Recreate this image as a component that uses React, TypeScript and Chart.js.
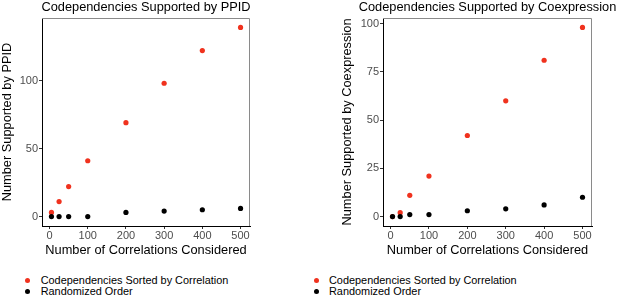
import React, { useEffect, useRef } from "react";
import { Chart, registerables } from "chart.js";

Chart.register(...registerables);

// ---- data ----
const correlationsConsidered = [5, 25, 50, 100, 200, 300, 400, 500];
const ppidSorted = [3, 11, 22, 41, 69, 98, 122, 139];
const ppidRandom = [0, 0, 0, 0, 3, 4, 5, 6];
const coexSorted = [0, 2, 11, 21, 42, 60, 81, 98];
const coexRandom = [0, 0, 1, 1, 3, 4, 6, 10];
const xTicks = [0, 100, 200, 300, 400, 500];
const ppidYTicks = [0, 50, 100];
const coexYTicks = [0, 25, 50, 75, 100];
const seriesNames = ["Codependencies Sorted by Correlation", "Randomized Order"];
const seriesColors = ["#f0321e", "#000000"];
const titles = ["Codependencies Supported by PPID", "Codependencies Supported by Coexpression"];
const yTitles = ["Number Supported by PPID", "Number Supported by Coexpression"];
const xTitle = "Number of Correlations Considered";

const FONT = "'Liberation Sans', Arial, Helvetica, sans-serif";

const panelBorder = {
  id: "panelBorder",
  afterDraw(chart: any) {
    const { ctx, chartArea } = chart;
    ctx.save();
    ctx.strokeStyle = "#8a8a8a";
    ctx.lineWidth = 1;
    ctx.beginPath();
    ctx.moveTo(chartArea.left, chartArea.top + 0.5);
    ctx.lineTo(chartArea.right - 0.5, chartArea.top + 0.5);
    ctx.lineTo(chartArea.right - 0.5, chartArea.bottom);
    ctx.stroke();
    ctx.restore();
  },
};

function makeConfig(
  title: string,
  yTitle: string,
  sorted: number[],
  random: number[],
  yMin: number,
  yMax: number,
  yTicks: number[],
  yWidth: number
): any {
  const pts = (vals: number[]) => correlationsConsidered.map((x, i) => ({ x, y: vals[i] }));
  return {
    type: "scatter",
    data: {
      datasets: [
        {
          label: seriesNames[0],
          data: pts(sorted),
          backgroundColor: seriesColors[0],
          borderColor: seriesColors[0],
          pointRadius: 2.6,
          borderWidth: 0,
          order: 1,
        },
        {
          label: seriesNames[1],
          data: pts(random),
          backgroundColor: seriesColors[1],
          borderColor: seriesColors[1],
          pointRadius: 2.6,
          borderWidth: 0,
          order: 0,
        },
      ],
    },
    options: {
      animation: false,
      responsive: false,
      layout: { padding: 0 },
      plugins: {
        legend: { display: false },
        tooltip: { enabled: false },
        title: {
          display: true,
          text: title,
          color: "#000",
          font: { family: FONT, size: 12.8, weight: "normal" },
          padding: { top: 0, bottom: 2.64 },
        },
      },
      scales: {
        x: {
          type: "linear",
          min: -19.75,
          max: 524.75,
          afterBuildTicks: (s: any) => {
            s.ticks = xTicks.map((v) => ({ value: v }));
          },
          afterFit: (s: any) => {
            s.height = 32;
          },
          ticks: { color: "#4d4d4d", font: { family: FONT, size: 11 }, padding: 0, maxRotation: 0 },
          grid: { display: true, drawOnChartArea: false, drawTicks: true, tickLength: 3, color: "#333" },
          border: { display: true, color: "#000", width: 1 },
          title: {
            display: true,
            text: xTitle,
            color: "#000",
            font: { family: FONT, size: 12.8 },
            padding: { top: 0, bottom: 0 },
          },
        },
        y: {
          type: "linear",
          position: "left",
          min: yMin,
          max: yMax,
          afterBuildTicks: (s: any) => {
            s.ticks = yTicks.map((v) => ({ value: v }));
          },
          afterFit: (s: any) => {
            s.width = yWidth;
          },
          ticks: { color: "#4d4d4d", font: { family: FONT, size: 11 }, padding: 1 },
          grid: { display: true, drawOnChartArea: false, drawTicks: true, tickLength: 3, color: "#333" },
          border: { display: true, color: "#000", width: 1 },
          title: {
            display: true,
            text: yTitle,
            color: "#000",
            font: { family: FONT, size: 12.8 },
            padding: { top: 0, bottom: 0 },
          },
        },
        // empty right-hand spacer so the title is centred over the panel
        spacer: {
          type: "linear",
          position: "right",
          min: yMin,
          max: yMax,
          afterFit: (s: any) => {
            s.width = yWidth;
          },
          ticks: { display: false },
          grid: { display: false, drawTicks: false },
          border: { display: false },
          title: { display: false },
        },
      },
    },
    plugins: [panelBorder],
  };
}

function Panel(props: { config: any; left: number; width: number; height: number }) {
  const ref = useRef<HTMLCanvasElement | null>(null);
  useEffect(() => {
    if (!ref.current) return;
    const chart = new Chart(ref.current, props.config);
    return () => chart.destroy();
  }, []);
  return (
    <canvas
      ref={ref}
      width={props.width}
      height={props.height}
      style={{ position: "absolute", left: props.left, top: 0, width: props.width, height: props.height }}
    />
  );
}

function Legend(props: { dotX: number; textX: number; top: number }) {
  return (
    <div style={{ position: "absolute", left: 0, top: props.top, fontFamily: FONT, fontSize: 10.9, color: "#000" }}>
      {seriesNames.map((name, i) => (
        <div key={name} style={{ position: "relative", height: 11.3, lineHeight: "11.3px", whiteSpace: "nowrap" }}>
          <span
            style={{
              position: "absolute",
              left: props.dotX - 2.5,
              top: 3.15,
              width: 5,
              height: 5,
              borderRadius: "50%",
              background: seriesColors[i],
            }}
          />
          <span style={{ position: "absolute", left: props.textX, top: 0 }}>{name}</span>
        </div>
      ))}
    </div>
  );
}

export default function App() {
  const left = makeConfig(titles[0], yTitles[0], ppidSorted, ppidRandom, -6.95, 145.95, ppidYTicks, 42);
  const right = makeConfig(titles[1], yTitles[1], coexSorted, coexRandom, -4.9, 102.9, coexYTicks, 43);
  return (
    <div style={{ position: "absolute", left: 0, top: 0, width: 617, height: 297, overflow: "hidden", background: "#fff" }}>
      <Panel config={left} left={0} width={292} height={258} />
      <Panel config={right} left={340} width={295} height={258} />
      <Legend dotX={27} textX={40.7} top={275} />
      <Legend dotX={316} textX={329} top={275} />
    </div>
  );
}
